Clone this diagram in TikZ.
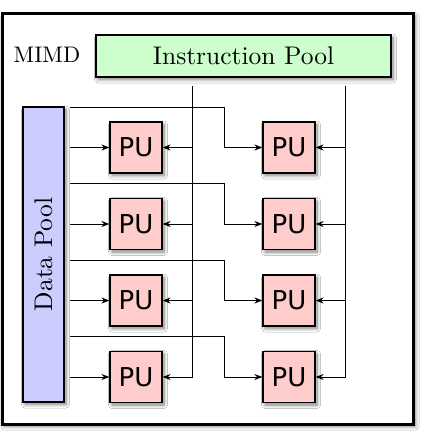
\documentclass[tikz,border=0pt]{standalone}
\usepackage{fontspec}
\newfontfamily\pufont{DejaVu Sans}
\newfontfamily\labelfont{lmroman10-regular}[Extension=.otf]
\usetikzlibrary{arrows.meta,shadows.blur,calc}
\definecolor{instrfill}{HTML}{CCFFCC}
\definecolor{datafill}{HTML}{CCCCFF}
\definecolor{pufill}{HTML}{FFCCCC}
\tikzset{
  softshadow/.style={blur shadow={shadow xshift=2pt, shadow yshift=-2.5pt,
      shadow blur radius=3.5pt, shadow blur steps=8, shadow opacity=50}},
  pool/.style={draw=black, line width=1.2pt, inner sep=0pt, softshadow,
      font=\labelfont\fontsize{25.5}{29}\selectfont},
  pubox/.style={draw=black, line width=1.2pt, fill=pufill, inner sep=0pt,
      minimum width=52pt, minimum height=51pt, softshadow,
      font=\pufont\fontsize{26}{30}\selectfont},
  wire/.style={line width=1pt, line cap=rect},
  arr/.style={wire, -{Stealth[length=8pt,width=6pt]}},
}
\begin{document}
\begin{tikzpicture}[x=1pt, y=-1pt]
  \useasboundingbox (0,0) rectangle (425,445);
  \fill[white] (0,0) rectangle (425,445);

  % outer frame
  \node[draw=black, line width=3pt, fill=white, softshadow, inner sep=0pt,
        minimum width=411pt, minimum height=410.5pt] (frame) at (208,218.75) {};

  % title and pools
  \node[font=\labelfont\fontsize{22.5}{26}\selectfont, inner sep=0pt] (title) at (47,55) {MIMD};
  \node[pool, fill=instrfill, minimum width=295pt, minimum height=42pt]
        (ip) at (243.5,56) {Instruction Pool};
  \node[pool, fill=datafill, minimum width=41pt, minimum height=295pt]
        (dp) at (43.5,254.5) {\rotatebox{90}{Data Pool}};

  % processing units
  \foreach \r/\y in {1/147.5, 2/224, 3/300.5, 4/377} {
    \node[pubox] (p\r a) at (136,\y) {PU};
    \node[pubox] (p\r b) at (289,\y) {PU};
  }

  % instruction buses
  \coordinate (busAtop) at (192,86);
  \coordinate (busBtop) at (345,86);
  \draw[wire] (busAtop) -- (busAtop |- p4a.east);
  \draw[wire] (busBtop) -- (busBtop |- p4b.east);

  \foreach \r in {1,2,3,4} {
    % instructions into each unit
    \draw[arr] (busAtop |- p\r a.east) -- (p\r a.east);
    \draw[arr] (busBtop |- p\r b.east) -- (p\r b.east);
    % data into first column
    \draw[arr] ([xshift=6pt]dp.east |- p\r a.west) -- (p\r a.west);
    % data routed over to second column
    \draw[arr] ($([xshift=6pt]dp.east |- p\r b.west)+(0,-40.5)$)
               -| ($(p\r b.west)+(-38,0)$) -- (p\r b.west);
  }
\end{tikzpicture}
\end{document}
